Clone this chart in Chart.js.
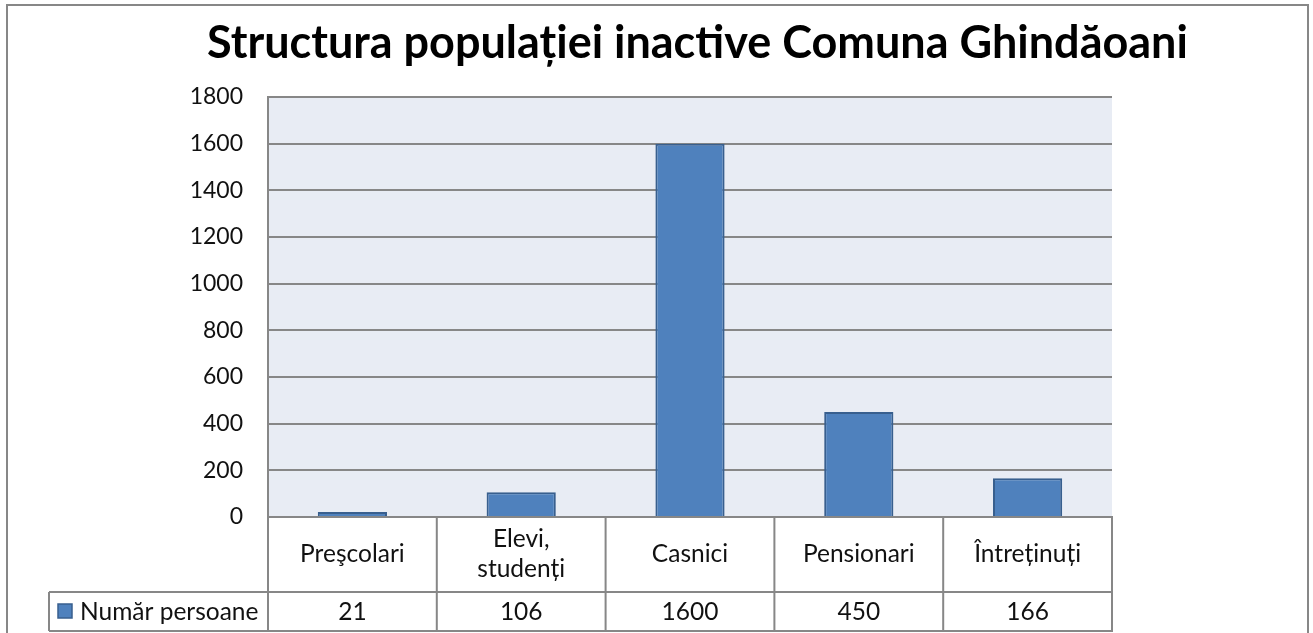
<!DOCTYPE html>
<html>
<head>
<meta charset="utf-8">
<script src="https://cdn.jsdelivr.net/npm/chart.js@4.4.1/dist/chart.umd.min.js"></script>
<style>
  html, body { margin: 0; padding: 0; background: #ffffff; }
  #wrap { position: relative; width: 1313px; height: 633px; }
</style>
</head>
<body>
<div id="wrap"><canvas id="c" width="1313" height="633"></canvas></div>
<script>
const chartTitle = "Structura populației inactive Comuna Ghindăoani";
const seriesName = "Număr persoane";
const categories = [["Preşcolari"], ["Elevi,", "studenți"], ["Casnici"], ["Pensionari"], ["Întreținuți"]];
const values = [21, 106, 1600, 450, 166];
const yTicks = [0, 200, 400, 600, 800, 1000, 1200, 1400, 1600, 1800];

const FONT = "Lato, 'Open Sans', sans-serif";
const LINE = "#878787";
const BAR = "#4F81BD";
const BAR_EDGE = "#385F8E";

const decor = {
  id: "decor",
  beforeDraw(chart) {
    const { ctx, chartArea: a } = chart;
    ctx.save();
    ctx.fillStyle = "#ffffff";
    ctx.fillRect(0, 0, chart.width, chart.height);
    ctx.strokeStyle = LINE;
    ctx.lineWidth = 2;
    ctx.strokeRect(7, 5, 1301, 700);
    ctx.fillStyle = "#E8ECF4";
    ctx.fillRect(a.left, a.top, a.right - a.left, a.bottom - a.top);
    ctx.fillStyle = "#000";
    ctx.textAlign = "left";
    ctx.textBaseline = "alphabetic";
    ctx.font = "bold 38px " + FONT;
    const w = ctx.measureText(chartTitle).width;
    const size = 38 * 981 / w;
    ctx.font = "bold " + size.toFixed(2) + "px " + FONT;
    ctx.fillText(chartTitle, 207, 58);
    ctx.restore();
  },
  afterDraw(chart) {
    const { ctx, chartArea: a } = chart;
    const xs = chart.scales.x;
    const n = categories.length;
    const cw = (a.right - a.left) / n;
    const row1Bottom = 592;
    const row2Bottom = 631;
    const legendLeft = 49;
    ctx.save();
    ctx.strokeStyle = LINE;
    ctx.lineWidth = 2;
    ctx.beginPath();
    ctx.moveTo(a.left, a.bottom); ctx.lineTo(a.right + 1, a.bottom);
    ctx.moveTo(legendLeft, row1Bottom); ctx.lineTo(a.right + 1, row1Bottom);
    ctx.moveTo(legendLeft, row2Bottom); ctx.lineTo(a.right + 1, row2Bottom);
    ctx.moveTo(legendLeft, row1Bottom); ctx.lineTo(legendLeft, row2Bottom);
    ctx.moveTo(a.left, a.top); ctx.lineTo(a.left, row2Bottom);
    for (let i = 0; i < n; i++) {
      const xr = xs.getPixelForValue(i) + cw / 2;
      ctx.moveTo(xr, a.bottom); ctx.lineTo(xr, row2Bottom);
    }
    ctx.stroke();

    ctx.fillStyle = "#111";
    ctx.font = "24.5px " + FONT;
    ctx.textAlign = "center";
    ctx.textBaseline = "middle";
    for (let i = 0; i < n; i++) {
      const cx = xs.getPixelForValue(i);
      const lines = categories[i];
      const lh = 30;
      const y0 = (a.bottom + row1Bottom) / 2 - (lines.length - 1) * lh / 2;
      lines.forEach((t, k) => ctx.fillText(t, cx, y0 + k * lh));
      ctx.fillText(String(values[i]), cx, (row1Bottom + row2Bottom) / 2 + 1);
    }
    ctx.fillStyle = BAR;
    ctx.fillRect(58, 604, 14, 14);
    ctx.strokeStyle = BAR_EDGE;
    ctx.lineWidth = 1.5;
    ctx.strokeRect(58, 604, 14, 14);
    ctx.fillStyle = "#111";
    ctx.textAlign = "left";
    ctx.fillText(seriesName, 80, (row1Bottom + row2Bottom) / 2 + 1);
    ctx.restore();
  }
};

new Chart(document.getElementById("c"), {
  type: "bar",
  data: {
    labels: categories.map(l => l.join(" ")),
    datasets: [{
      label: seriesName,
      data: values,
      backgroundColor: BAR,
      borderColor: BAR_EDGE,
      borderWidth: 2,
      barPercentage: 0.41,
      categoryPercentage: 1.0
    }]
  },
  options: {
    responsive: false,
    animation: false,
    events: [],
    layout: { padding: { left: 168, right: 201, top: 97, bottom: 116 } },
    plugins: { legend: { display: false }, title: { display: false }, tooltip: { enabled: false } },
    scales: {
      x: { display: false },
      y: {
        min: 0, max: 1800,
        afterFit(scale) { scale.width = 100; },
        afterBuildTicks(scale) { scale.ticks = yTicks.map(v => ({ value: v })); },
        ticks: { color: "#111", font: { family: FONT, size: 23 }, padding: 25, callback: v => String(v) },
        grid: { color: LINE, lineWidth: 2, drawTicks: false },
        border: { display: true, color: LINE, width: 2 }
      }
    }
  },
  plugins: [decor]
});
</script>
</body>
</html>
